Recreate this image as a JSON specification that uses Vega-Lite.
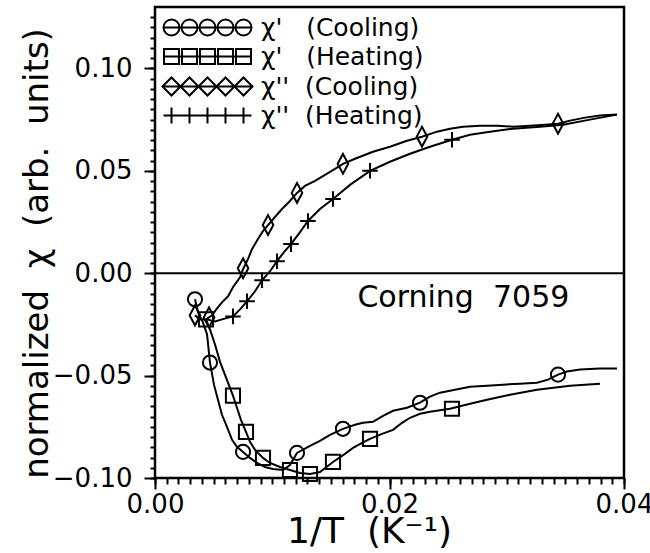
{
  "$schema": "https://vega.github.io/schema/vega-lite/v6.json",
  "width": 469,
  "height": 471,
  "autosize": {"type": "none"},
  "padding": {"left": 155, "top": 7, "right": 26, "bottom": 75},
  "background": "white",
  "config": {
    "view": {"stroke": "black", "strokeWidth": 2.5},
    "font": "DejaVu Sans",
    "axis": {
      "tickColor": "black",
      "tickWidth": 2,
      "domain": false,
      "grid": false,
      "labelFont": "DejaVu Sans",
      "labelFontSize": 26,
      "labelColor": "black",
      "labelFlush": false,
      "labelOverlap": false,
      "titleFont": "DejaVu Sans",
      "titleFontWeight": "normal",
      "titleColor": "black"
    }
  },
  "resolve": {"axis": {"x": "independent", "y": "independent"}, "scale": {"shape": "independent"}},
  "datasets": {
    "curves": [
      {"series": "χ'\u00a0\u00a0\u00a0(Cooling)", "x": 0.00341, "y": -0.01275},
      {"series": "χ'\u00a0\u00a0\u00a0(Cooling)", "x": 0.00367, "y": -0.01912},
      {"series": "χ'\u00a0\u00a0\u00a0(Cooling)", "x": 0.00409, "y": -0.02402},
      {"series": "χ'\u00a0\u00a0\u00a0(Cooling)", "x": 0.00444, "y": -0.0299},
      {"series": "χ'\u00a0\u00a0\u00a0(Cooling)", "x": 0.00469, "y": -0.04363},
      {"series": "χ'\u00a0\u00a0\u00a0(Cooling)", "x": 0.00503, "y": -0.05441},
      {"series": "χ'\u00a0\u00a0\u00a0(Cooling)", "x": 0.00537, "y": -0.06176},
      {"series": "χ'\u00a0\u00a0\u00a0(Cooling)", "x": 0.00571, "y": -0.06912},
      {"series": "χ'\u00a0\u00a0\u00a0(Cooling)", "x": 0.00614, "y": -0.075},
      {"series": "χ'\u00a0\u00a0\u00a0(Cooling)", "x": 0.00657, "y": -0.08137},
      {"series": "χ'\u00a0\u00a0\u00a0(Cooling)", "x": 0.00699, "y": -0.0848},
      {"series": "χ'\u00a0\u00a0\u00a0(Cooling)", "x": 0.00751, "y": -0.08725},
      {"series": "χ'\u00a0\u00a0\u00a0(Cooling)", "x": 0.0081, "y": -0.0902},
      {"series": "χ'\u00a0\u00a0\u00a0(Cooling)", "x": 0.0087, "y": -0.09265},
      {"series": "χ'\u00a0\u00a0\u00a0(Cooling)", "x": 0.00938, "y": -0.09461},
      {"series": "χ'\u00a0\u00a0\u00a0(Cooling)", "x": 0.01006, "y": -0.09559},
      {"series": "χ'\u00a0\u00a0\u00a0(Cooling)", "x": 0.01092, "y": -0.09608},
      {"series": "χ'\u00a0\u00a0\u00a0(Cooling)", "x": 0.01151, "y": -0.09363},
      {"series": "χ'\u00a0\u00a0\u00a0(Cooling)", "x": 0.01211, "y": -0.08775},
      {"series": "χ'\u00a0\u00a0\u00a0(Cooling)", "x": 0.01322, "y": -0.08431},
      {"series": "χ'\u00a0\u00a0\u00a0(Cooling)", "x": 0.01407, "y": -0.08186},
      {"series": "χ'\u00a0\u00a0\u00a0(Cooling)", "x": 0.01493, "y": -0.07892},
      {"series": "χ'\u00a0\u00a0\u00a0(Cooling)", "x": 0.01603, "y": -0.07598},
      {"series": "χ'\u00a0\u00a0\u00a0(Cooling)", "x": 0.01706, "y": -0.07402},
      {"series": "χ'\u00a0\u00a0\u00a0(Cooling)", "x": 0.01774, "y": -0.07304},
      {"series": "χ'\u00a0\u00a0\u00a0(Cooling)", "x": 0.01859, "y": -0.07255},
      {"series": "χ'\u00a0\u00a0\u00a0(Cooling)", "x": 0.01945, "y": -0.06961},
      {"series": "χ'\u00a0\u00a0\u00a0(Cooling)", "x": 0.0203, "y": -0.06716},
      {"series": "χ'\u00a0\u00a0\u00a0(Cooling)", "x": 0.02149, "y": -0.06569},
      {"series": "χ'\u00a0\u00a0\u00a0(Cooling)", "x": 0.0226, "y": -0.06324},
      {"series": "χ'\u00a0\u00a0\u00a0(Cooling)", "x": 0.02345, "y": -0.06029},
      {"series": "χ'\u00a0\u00a0\u00a0(Cooling)", "x": 0.02431, "y": -0.05833},
      {"series": "χ'\u00a0\u00a0\u00a0(Cooling)", "x": 0.02559, "y": -0.05686},
      {"series": "χ'\u00a0\u00a0\u00a0(Cooling)", "x": 0.02687, "y": -0.05539},
      {"series": "χ'\u00a0\u00a0\u00a0(Cooling)", "x": 0.02832, "y": -0.0549},
      {"series": "χ'\u00a0\u00a0\u00a0(Cooling)", "x": 0.02968, "y": -0.05441},
      {"series": "χ'\u00a0\u00a0\u00a0(Cooling)", "x": 0.03113, "y": -0.05392},
      {"series": "χ'\u00a0\u00a0\u00a0(Cooling)", "x": 0.03258, "y": -0.05343},
      {"series": "χ'\u00a0\u00a0\u00a0(Cooling)", "x": 0.03352, "y": -0.05196},
      {"series": "χ'\u00a0\u00a0\u00a0(Cooling)", "x": 0.03437, "y": -0.04951},
      {"series": "χ'\u00a0\u00a0\u00a0(Cooling)", "x": 0.03514, "y": -0.04804},
      {"series": "χ'\u00a0\u00a0\u00a0(Cooling)", "x": 0.03625, "y": -0.04706},
      {"series": "χ'\u00a0\u00a0\u00a0(Cooling)", "x": 0.03795, "y": -0.04657},
      {"series": "χ'\u00a0\u00a0\u00a0(Cooling)", "x": 0.0394, "y": -0.04657},

      {"series": "χ'\u00a0\u00a0\u00a0(Heating)", "x": 0.00435, "y": -0.02255},
      {"series": "χ'\u00a0\u00a0\u00a0(Heating)", "x": 0.00469, "y": -0.02745},
      {"series": "χ'\u00a0\u00a0\u00a0(Heating)", "x": 0.00512, "y": -0.0348},
      {"series": "χ'\u00a0\u00a0\u00a0(Heating)", "x": 0.00554, "y": -0.04314},
      {"series": "χ'\u00a0\u00a0\u00a0(Heating)", "x": 0.00606, "y": -0.05098},
      {"series": "χ'\u00a0\u00a0\u00a0(Heating)", "x": 0.00665, "y": -0.0598},
      {"series": "χ'\u00a0\u00a0\u00a0(Heating)", "x": 0.00699, "y": -0.06569},
      {"series": "χ'\u00a0\u00a0\u00a0(Heating)", "x": 0.00733, "y": -0.07157},
      {"series": "χ'\u00a0\u00a0\u00a0(Heating)", "x": 0.00776, "y": -0.07745},
      {"series": "χ'\u00a0\u00a0\u00a0(Heating)", "x": 0.0081, "y": -0.08235},
      {"series": "χ'\u00a0\u00a0\u00a0(Heating)", "x": 0.00853, "y": -0.08627},
      {"series": "χ'\u00a0\u00a0\u00a0(Heating)", "x": 0.00921, "y": -0.0902},
      {"series": "χ'\u00a0\u00a0\u00a0(Heating)", "x": 0.00981, "y": -0.09265},
      {"series": "χ'\u00a0\u00a0\u00a0(Heating)", "x": 0.01066, "y": -0.09461},
      {"series": "χ'\u00a0\u00a0\u00a0(Heating)", "x": 0.01151, "y": -0.09608},
      {"series": "χ'\u00a0\u00a0\u00a0(Heating)", "x": 0.01237, "y": -0.09755},
      {"series": "χ'\u00a0\u00a0\u00a0(Heating)", "x": 0.01322, "y": -0.09804},
      {"series": "χ'\u00a0\u00a0\u00a0(Heating)", "x": 0.01407, "y": -0.09706},
      {"series": "χ'\u00a0\u00a0\u00a0(Heating)", "x": 0.01518, "y": -0.09216},
      {"series": "χ'\u00a0\u00a0\u00a0(Heating)", "x": 0.0162, "y": -0.08824},
      {"series": "χ'\u00a0\u00a0\u00a0(Heating)", "x": 0.01689, "y": -0.08529},
      {"series": "χ'\u00a0\u00a0\u00a0(Heating)", "x": 0.01766, "y": -0.08284},
      {"series": "χ'\u00a0\u00a0\u00a0(Heating)", "x": 0.01834, "y": -0.08088},
      {"series": "χ'\u00a0\u00a0\u00a0(Heating)", "x": 0.01936, "y": -0.07843},
      {"series": "χ'\u00a0\u00a0\u00a0(Heating)", "x": 0.0203, "y": -0.07647},
      {"series": "χ'\u00a0\u00a0\u00a0(Heating)", "x": 0.02107, "y": -0.07304},
      {"series": "χ'\u00a0\u00a0\u00a0(Heating)", "x": 0.02175, "y": -0.07059},
      {"series": "χ'\u00a0\u00a0\u00a0(Heating)", "x": 0.0226, "y": -0.06863},
      {"series": "χ'\u00a0\u00a0\u00a0(Heating)", "x": 0.02345, "y": -0.06765},
      {"series": "χ'\u00a0\u00a0\u00a0(Heating)", "x": 0.02516, "y": -0.06618},
      {"series": "χ'\u00a0\u00a0\u00a0(Heating)", "x": 0.02687, "y": -0.06373},
      {"series": "χ'\u00a0\u00a0\u00a0(Heating)", "x": 0.02832, "y": -0.06176},
      {"series": "χ'\u00a0\u00a0\u00a0(Heating)", "x": 0.03028, "y": -0.05931},
      {"series": "χ'\u00a0\u00a0\u00a0(Heating)", "x": 0.03258, "y": -0.05686},
      {"series": "χ'\u00a0\u00a0\u00a0(Heating)", "x": 0.0354, "y": -0.0549},
      {"series": "χ'\u00a0\u00a0\u00a0(Heating)", "x": 0.03795, "y": -0.05392},

      {"series": "χ''\u00a0\u00a0(Cooling)", "x": 0.00341, "y": -0.02059},
      {"series": "χ''\u00a0\u00a0(Cooling)", "x": 0.00384, "y": -0.02255},
      {"series": "χ''\u00a0\u00a0(Cooling)", "x": 0.00435, "y": -0.02255},
      {"series": "χ''\u00a0\u00a0(Cooling)", "x": 0.00486, "y": -0.02059},
      {"series": "χ''\u00a0\u00a0(Cooling)", "x": 0.00529, "y": -0.01716},
      {"series": "χ''\u00a0\u00a0(Cooling)", "x": 0.00571, "y": -0.01422},
      {"series": "χ''\u00a0\u00a0(Cooling)", "x": 0.00623, "y": -0.01127},
      {"series": "χ''\u00a0\u00a0(Cooling)", "x": 0.00665, "y": -0.00686},
      {"series": "χ''\u00a0\u00a0(Cooling)", "x": 0.00725, "y": -0.00196},
      {"series": "χ''\u00a0\u00a0(Cooling)", "x": 0.00751, "y": 0.00196},
      {"series": "χ''\u00a0\u00a0(Cooling)", "x": 0.00793, "y": 0.00686},
      {"series": "χ''\u00a0\u00a0(Cooling)", "x": 0.00827, "y": 0.01176},
      {"series": "χ''\u00a0\u00a0(Cooling)", "x": 0.00878, "y": 0.01667},
      {"series": "χ''\u00a0\u00a0(Cooling)", "x": 0.00921, "y": 0.02059},
      {"series": "χ''\u00a0\u00a0(Cooling)", "x": 0.00964, "y": 0.02353},
      {"series": "χ''\u00a0\u00a0(Cooling)", "x": 0.01023, "y": 0.02745},
      {"series": "χ''\u00a0\u00a0(Cooling)", "x": 0.01083, "y": 0.03137},
      {"series": "χ''\u00a0\u00a0(Cooling)", "x": 0.01151, "y": 0.03529},
      {"series": "χ''\u00a0\u00a0(Cooling)", "x": 0.01211, "y": 0.03922},
      {"series": "χ''\u00a0\u00a0(Cooling)", "x": 0.01279, "y": 0.04265},
      {"series": "χ''\u00a0\u00a0(Cooling)", "x": 0.01365, "y": 0.0451},
      {"series": "χ''\u00a0\u00a0(Cooling)", "x": 0.0145, "y": 0.04804},
      {"series": "χ''\u00a0\u00a0(Cooling)", "x": 0.01535, "y": 0.05098},
      {"series": "χ''\u00a0\u00a0(Cooling)", "x": 0.01603, "y": 0.05343},
      {"series": "χ''\u00a0\u00a0(Cooling)", "x": 0.01706, "y": 0.05588},
      {"series": "χ''\u00a0\u00a0(Cooling)", "x": 0.01859, "y": 0.05931},
      {"series": "χ''\u00a0\u00a0(Cooling)", "x": 0.02004, "y": 0.06176},
      {"series": "χ''\u00a0\u00a0(Cooling)", "x": 0.02149, "y": 0.06471},
      {"series": "χ''\u00a0\u00a0(Cooling)", "x": 0.02277, "y": 0.06667},
      {"series": "χ''\u00a0\u00a0(Cooling)", "x": 0.02405, "y": 0.06912},
      {"series": "χ''\u00a0\u00a0(Cooling)", "x": 0.02516, "y": 0.07059},
      {"series": "χ''\u00a0\u00a0(Cooling)", "x": 0.02627, "y": 0.07157},
      {"series": "χ''\u00a0\u00a0(Cooling)", "x": 0.02772, "y": 0.07206},
      {"series": "χ''\u00a0\u00a0(Cooling)", "x": 0.02917, "y": 0.07206},
      {"series": "χ''\u00a0\u00a0(Cooling)", "x": 0.03053, "y": 0.07157},
      {"series": "χ''\u00a0\u00a0(Cooling)", "x": 0.03198, "y": 0.07206},
      {"series": "χ''\u00a0\u00a0(Cooling)", "x": 0.03326, "y": 0.07255},
      {"series": "χ''\u00a0\u00a0(Cooling)", "x": 0.03437, "y": 0.07304},
      {"series": "χ''\u00a0\u00a0(Cooling)", "x": 0.0354, "y": 0.07451},
      {"series": "χ''\u00a0\u00a0(Cooling)", "x": 0.03667, "y": 0.07598},
      {"series": "χ''\u00a0\u00a0(Cooling)", "x": 0.03795, "y": 0.07696},
      {"series": "χ''\u00a0\u00a0(Cooling)", "x": 0.0394, "y": 0.07745},

      {"series": "χ''\u00a0\u00a0(Heating)", "x": 0.00444, "y": -0.02255},
      {"series": "χ''\u00a0\u00a0(Heating)", "x": 0.00512, "y": -0.02353},
      {"series": "χ''\u00a0\u00a0(Heating)", "x": 0.00571, "y": -0.02255},
      {"series": "χ''\u00a0\u00a0(Heating)", "x": 0.00665, "y": -0.02108},
      {"series": "χ''\u00a0\u00a0(Heating)", "x": 0.00725, "y": -0.01765},
      {"series": "χ''\u00a0\u00a0(Heating)", "x": 0.00785, "y": -0.01373},
      {"series": "χ''\u00a0\u00a0(Heating)", "x": 0.00853, "y": -0.00882},
      {"series": "χ''\u00a0\u00a0(Heating)", "x": 0.00913, "y": -0.00343},
      {"series": "χ''\u00a0\u00a0(Heating)", "x": 0.00981, "y": 0.00098},
      {"series": "χ''\u00a0\u00a0(Heating)", "x": 0.01041, "y": 0.00588},
      {"series": "χ''\u00a0\u00a0(Heating)", "x": 0.011, "y": 0.01029},
      {"series": "χ''\u00a0\u00a0(Heating)", "x": 0.0116, "y": 0.01422},
      {"series": "χ''\u00a0\u00a0(Heating)", "x": 0.01237, "y": 0.0201},
      {"series": "χ''\u00a0\u00a0(Heating)", "x": 0.01305, "y": 0.02549},
      {"series": "χ''\u00a0\u00a0(Heating)", "x": 0.01407, "y": 0.03137},
      {"series": "χ''\u00a0\u00a0(Heating)", "x": 0.01518, "y": 0.03627},
      {"series": "χ''\u00a0\u00a0(Heating)", "x": 0.01663, "y": 0.04314},
      {"series": "χ''\u00a0\u00a0(Heating)", "x": 0.01834, "y": 0.05},
      {"series": "χ''\u00a0\u00a0(Heating)", "x": 0.02004, "y": 0.05441},
      {"series": "χ''\u00a0\u00a0(Heating)", "x": 0.02175, "y": 0.05833},
      {"series": "χ''\u00a0\u00a0(Heating)", "x": 0.02345, "y": 0.06176},
      {"series": "χ''\u00a0\u00a0(Heating)", "x": 0.02533, "y": 0.0652},
      {"series": "χ''\u00a0\u00a0(Heating)", "x": 0.02687, "y": 0.06765},
      {"series": "χ''\u00a0\u00a0(Heating)", "x": 0.02857, "y": 0.06912},
      {"series": "χ''\u00a0\u00a0(Heating)", "x": 0.03053, "y": 0.07059},
      {"series": "χ''\u00a0\u00a0(Heating)", "x": 0.03284, "y": 0.07157},
      {"series": "χ''\u00a0\u00a0(Heating)", "x": 0.0348, "y": 0.07255},
      {"series": "χ''\u00a0\u00a0(Heating)", "x": 0.0371, "y": 0.075},
      {"series": "χ''\u00a0\u00a0(Heating)", "x": 0.0394, "y": 0.07745}
    ],
    "markers": [
      {"series": "χ'\u00a0\u00a0\u00a0(Cooling)", "x": 0.00341, "y": -0.01275},
      {"series": "χ'\u00a0\u00a0\u00a0(Cooling)", "x": 0.00469, "y": -0.04363},
      {"series": "χ'\u00a0\u00a0\u00a0(Cooling)", "x": 0.00751, "y": -0.08725},
      {"series": "χ'\u00a0\u00a0\u00a0(Cooling)", "x": 0.01211, "y": -0.08775},
      {"series": "χ'\u00a0\u00a0\u00a0(Cooling)", "x": 0.01603, "y": -0.07598},
      {"series": "χ'\u00a0\u00a0\u00a0(Cooling)", "x": 0.0226, "y": -0.06324},
      {"series": "χ'\u00a0\u00a0\u00a0(Cooling)", "x": 0.03437, "y": -0.04951},

      {"series": "χ'\u00a0\u00a0\u00a0(Heating)", "x": 0.00435, "y": -0.02255},
      {"series": "χ'\u00a0\u00a0\u00a0(Heating)", "x": 0.00665, "y": -0.0598},
      {"series": "χ'\u00a0\u00a0\u00a0(Heating)", "x": 0.00776, "y": -0.07745},
      {"series": "χ'\u00a0\u00a0\u00a0(Heating)", "x": 0.00921, "y": -0.0902},
      {"series": "χ'\u00a0\u00a0\u00a0(Heating)", "x": 0.01151, "y": -0.09608},
      {"series": "χ'\u00a0\u00a0\u00a0(Heating)", "x": 0.01322, "y": -0.09804},
      {"series": "χ'\u00a0\u00a0\u00a0(Heating)", "x": 0.01518, "y": -0.09216},
      {"series": "χ'\u00a0\u00a0\u00a0(Heating)", "x": 0.01834, "y": -0.08088},
      {"series": "χ'\u00a0\u00a0\u00a0(Heating)", "x": 0.02533, "y": -0.06618},

      {"series": "χ''\u00a0\u00a0(Cooling)", "x": 0.00341, "y": -0.02059},
      {"series": "χ''\u00a0\u00a0(Cooling)", "x": 0.00461, "y": -0.02157},
      {"series": "χ''\u00a0\u00a0(Cooling)", "x": 0.00751, "y": 0.00245},
      {"series": "χ''\u00a0\u00a0(Cooling)", "x": 0.00964, "y": 0.02353},
      {"series": "χ''\u00a0\u00a0(Cooling)", "x": 0.01211, "y": 0.03922},
      {"series": "χ''\u00a0\u00a0(Cooling)", "x": 0.01603, "y": 0.05343},
      {"series": "χ''\u00a0\u00a0(Cooling)", "x": 0.02277, "y": 0.06667},
      {"series": "χ''\u00a0\u00a0(Cooling)", "x": 0.03437, "y": 0.07304},

      {"series": "χ''\u00a0\u00a0(Heating)", "x": 0.00665, "y": -0.02108},
      {"series": "χ''\u00a0\u00a0(Heating)", "x": 0.00785, "y": -0.01373},
      {"series": "χ''\u00a0\u00a0(Heating)", "x": 0.00913, "y": -0.00343},
      {"series": "χ''\u00a0\u00a0(Heating)", "x": 0.01041, "y": 0.00588},
      {"series": "χ''\u00a0\u00a0(Heating)", "x": 0.0116, "y": 0.01422},
      {"series": "χ''\u00a0\u00a0(Heating)", "x": 0.01305, "y": 0.02549},
      {"series": "χ''\u00a0\u00a0(Heating)", "x": 0.01518, "y": 0.03627},
      {"series": "χ''\u00a0\u00a0(Heating)", "x": 0.01834, "y": 0.05},
      {"series": "χ''\u00a0\u00a0(Heating)", "x": 0.02533, "y": 0.0652}
    ]
  },
  "layer": [
    {
      "data": {"name": "curves"},
      "mark": {"type": "line", "color": "black", "strokeWidth": 2},
      "encoding": {
        "x": {
          "field": "x",
          "type": "quantitative",
          "scale": {"domain": [0, 0.04], "nice": false, "zero": false},
          "axis": {
            "orient": "bottom",
            "title": null,
            "labels": false,
            "tickSize": 6,
            "tickCount": 200,
            "values": [0, 0.001, 0.002, 0.003, 0.004, 0.005, 0.006, 0.007, 0.008, 0.009, 0.01, 0.011, 0.012, 0.013, 0.014, 0.015, 0.016, 0.017, 0.018, 0.019, 0.02, 0.021, 0.022, 0.023, 0.024, 0.025, 0.026, 0.027, 0.028, 0.029, 0.03, 0.031, 0.032, 0.033, 0.034, 0.035, 0.036, 0.037, 0.038, 0.039, 0.04]
          }
        },
        "y": {
          "field": "y",
          "type": "quantitative",
          "scale": {"domain": [-0.1, 0.13], "nice": false, "zero": false},
          "axis": {
            "orient": "left",
            "title": null,
            "labels": false,
            "tickSize": 5,
            "tickCount": 200,
            "values": [-0.1, -0.095, -0.09, -0.085, -0.08, -0.075, -0.07, -0.065, -0.06, -0.055, -0.05, -0.045, -0.04, -0.035, -0.03, -0.025, -0.02, -0.015, -0.01, -0.005, 0, 0.005, 0.01, 0.015, 0.02, 0.025, 0.03, 0.035, 0.04, 0.045, 0.05, 0.055, 0.06, 0.065, 0.07, 0.075, 0.08, 0.085, 0.09, 0.095, 0.1, 0.105, 0.11, 0.115, 0.12, 0.125]
          }
        },
        "detail": {"field": "series", "type": "nominal"}
      }
    },
    {
      "data": {"name": "markers"},
      "mark": {"type": "point", "filled": false, "color": "black", "strokeWidth": 2, "size": 200, "opacity": 1},
      "encoding": {
        "x": {
          "field": "x",
          "type": "quantitative",
          "axis": {
            "orient": "bottom",
            "values": [0, 0.02, 0.04],
            "format": ".2f",
            "tickSize": 11,
            "labelPadding": 2,
            "title": "1/T\u00a0\u00a0(K⁻¹)",
            "titleX": 214,
            "titleFontSize": 36,
            "titlePadding": -3
          }
        },
        "y": {
          "field": "y",
          "type": "quantitative",
          "axis": {
            "orient": "left",
            "values": [-0.1, -0.05, 0, 0.05, 0.1],
            "format": ".2f",
            "tickSize": 11,
            "labelPadding": 12,
            "title": "normalized\u00a0\u00a0χ\u00a0\u00a0(arb.\u00a0\u00a0units)",
            "titleY": 246,
            "titleFontSize": 34,
            "titlePadding": -2
          }
        },
        "shape": {
          "field": "series",
          "type": "nominal",
          "scale": {
            "domain": ["χ'\u00a0\u00a0\u00a0(Cooling)", "χ'\u00a0\u00a0\u00a0(Heating)", "χ''\u00a0\u00a0(Cooling)", "χ''\u00a0\u00a0(Heating)"],
            "range": ["circle", "square", "M0,-1.4L0.75,0L0,1.4L-0.75,0Z", "M-1.1,0H1.1M0,-1.1V1.1"]
          },
          "legend": null
        }
      }
    },
    {
      "data": {"name": "markers"},
      "mark": {"type": "point", "filled": false, "color": "black", "strokeWidth": 2, "size": 16, "opacity": 0},
      "encoding": {
        "x": {"field": "x", "type": "quantitative", "axis": null},
        "y": {"field": "y", "type": "quantitative", "axis": null},
        "shape": {
          "field": "series",
          "type": "nominal",
          "scale": {
            "domain": ["χ'\u00a0\u00a0\u00a0(Cooling)", "χ'\u00a0\u00a0\u00a0(Heating)", "χ''\u00a0\u00a0(Cooling)", "χ''\u00a0\u00a0(Heating)"],
            "range": [
              "M-22,0H22M-22,0A4,4,0,1,1,-14,0A4,4,0,1,1,-22,0M-13,0A4,4,0,1,1,-5,0A4,4,0,1,1,-13,0M-4,0A4,4,0,1,1,4,0A4,4,0,1,1,-4,0M5,0A4,4,0,1,1,13,0A4,4,0,1,1,5,0M14,0A4,4,0,1,1,22,0A4,4,0,1,1,14,0",
              "M-22,0H22M-21.75,-3.75h7.5v7.5h-7.5zM-12.75,-3.75h7.5v7.5h-7.5zM-3.75,-3.75h7.5v7.5h-7.5zM5.25,-3.75h7.5v7.5h-7.5zM14.25,-3.75h7.5v7.5h-7.5z",
              "M-22.5,0H22.5M-22.5,0L-18,-4.5L-13.5,0L-18,4.5zM-13.5,0L-9,-4.5L-4.5,0L-9,4.5zM-4.5,0L0,-4.5L4.5,0L0,4.5zM4.5,0L9,-4.5L13.5,0L9,4.5zM13.5,0L18,-4.5L22.5,0L18,4.5z",
              "M-22,0H22M-18,-4V4M-9,-4V4M0,-4V4M9,-4V4M18,-4V4"
            ]
          },
          "legend": {
            "title": null,
            "orient": "none",
            "legendX": 9,
            "legendY": 8,
            "padding": 0,
            "symbolSize": 16,
            "symbolOpacity": 1,
            "symbolStrokeColor": "black",
            "symbolFillColor": "transparent",
            "symbolStrokeWidth": 2,
            "symbolOffset": 31,
            "labelOffset": 41,
            "rowPadding": 3,
            "labelFont": "DejaVu Sans",
            "labelFontSize": 25,
            "labelColor": "black",
            "labelLimit": 400
          }
        }
      }
    },
    {
      "data": {"values": [{"level": 0}]},
      "mark": {"type": "rule", "color": "black", "strokeWidth": 2},
      "encoding": {"y": {"field": "level", "type": "quantitative", "axis": null}}
    },
    {
      "data": {"values": [{"label": "Corning\u00a0\u00a07059"}]},
      "mark": {"type": "text", "font": "DejaVu Sans", "fontSize": 30, "color": "black", "align": "center", "baseline": "middle"},
      "encoding": {
        "x": {"datum": 0.0263, "type": "quantitative", "axis": null},
        "y": {"datum": -0.0123, "type": "quantitative", "axis": null},
        "text": {"field": "label", "type": "nominal"}
      }
    }
  ]
}
